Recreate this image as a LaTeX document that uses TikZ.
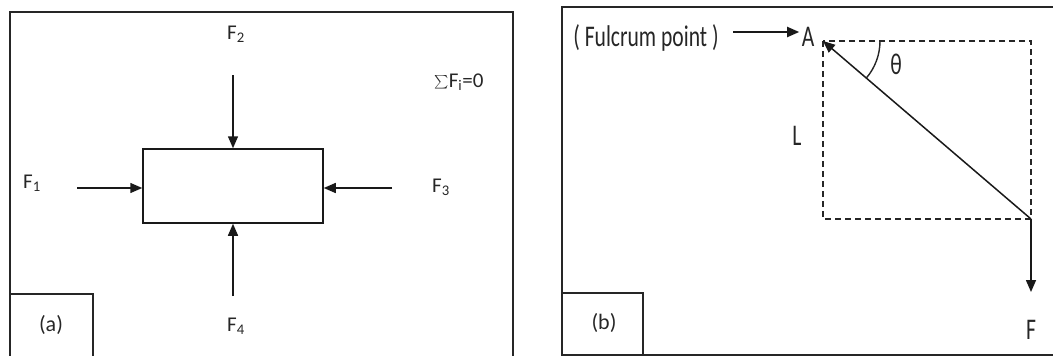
\documentclass[tikz,border=0pt]{standalone}
\usepackage{fontspec}
\setmainfont{Carlito}
\usetikzlibrary{arrows.meta,positioning}

\begin{document}
\begin{tikzpicture}[
  x=1pt, y=-1pt, >={Triangle[length=12pt,width=10pt]},
  frm/.style={line width=1.5pt, draw=black!85},
  frc/.style={->, line width=1.5pt, draw=black!90},
  dsh/.style={line width=1.7pt, draw=black!85, dash pattern=on 6pt off 4pt},
  lbla/.style={font=\fontsize{21}{24}\selectfont, text=black!85},
  lblb/.style={font=\fontsize{30}{32}\selectfont, text=black!85, xscale=0.72},
]
\useasboundingbox (0,0) rectangle (1053,356);
% ---------------- Panel (a): forces on a body ----
\draw[frm] (10,356) -- (10,12) -- (513,12) -- (513,356);
\draw[frm] (10,294) -- (93,294) -- (93,356);
\node[lbla, font=\fontsize{22}{24}\selectfont] (tagA) at (51,325) {(a)};
\node[draw=black!90, line width=1.5pt, minimum width=180pt, minimum height=74pt,
      inner sep=0pt] (body) at (233,186) {};
\coordinate (s1) at (77,188);
\coordinate (s2) at (233,75);
\coordinate (s3) at (392,188);
\coordinate (s4) at (233,296);
\draw[frc] (s1) -- (s1 -| body.west);
\draw[frc] (s2) -- (body.north);
\draw[frc] (s3) -- (s3 -| body.east);
\draw[frc] (s4) -- (body.south);
\node[lbla] (f1) at (32,183) {F\textsubscript{1}};
\node[lbla] (f2) at (236,34) {F\textsubscript{2}};
\node[lbla] (f3) at (441,187) {F\textsubscript{3}};
\node[lbla] (f4) at (236,326) {F\textsubscript{4}};
\node[lbla] (sum) at (459,82) {\raisebox{-2pt}{\scalebox{1.35}{$\sum$}}F\textsubscript{i}=0};
% ---------------- Panel (b): moment about the fulcrum ----
\draw[frm] (562,356) -- (562,7) -- (1053,7);
\draw[frm] (562,355) -- (1053,355);
\draw[frm] (562,293) -- (643,293) -- (643,356);
\node[lbla, font=\fontsize{22}{24}\selectfont] (tagB) at (604,323) {(b)};
\coordinate (A) at (823,41);
\coordinate (C) at (1031,219);
\coordinate (Fend) at (1031,292);
\coordinate (fa) at (733,32);
\draw[dsh] (A) rectangle (C);
\draw[frc] (C) -- (A);
\draw[frc] (C) -- (Fend);
\draw[line width=1.4pt, draw=black!85] (A) ++(57,0) arc[start angle=0, end angle=40.6, radius=57];
\node[lblb] (fulc) at (646,38) {( Fulcrum point )};
\node[lblb] (labA) at (808,37) {A};
\node[lblb] (labL) at (797,136) {L};
\node[lblb] (theta) at (896,64) {θ};
\node[lblb] (labF) at (1031,330) {F};
\draw[frc, line width=2pt] (fa) -- (fa -| labA.west);
\end{tikzpicture}
\end{document}
